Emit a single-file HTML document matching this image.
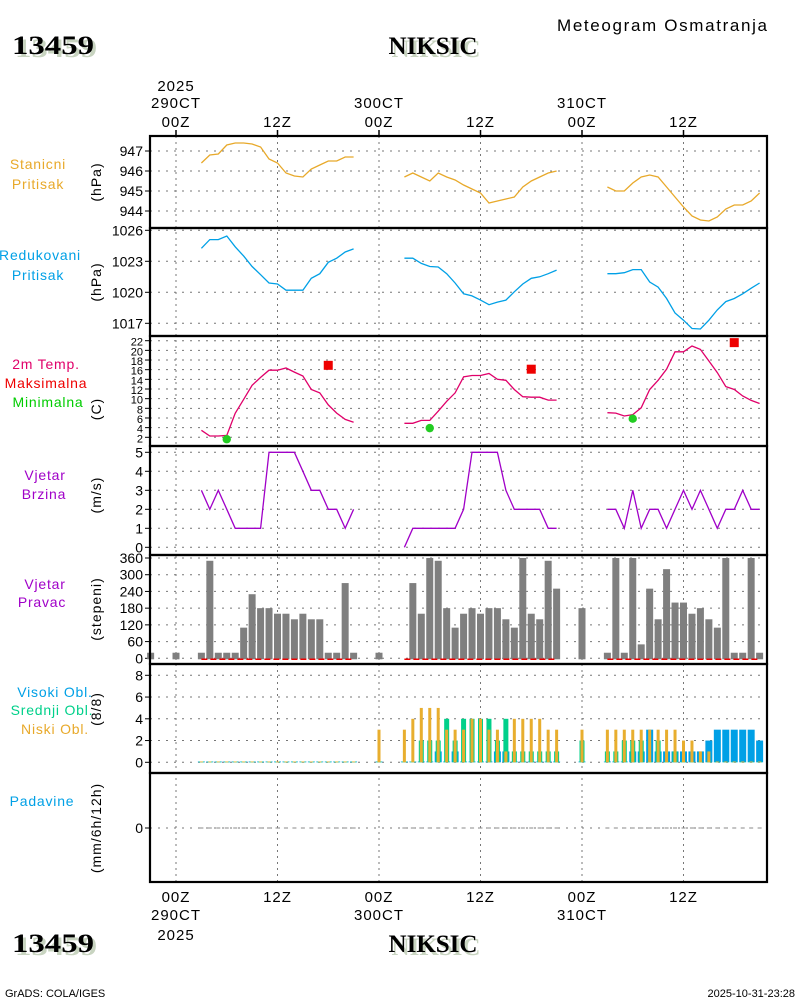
<!DOCTYPE html>
<html><head><meta charset="utf-8"><style>
body{margin:0;background:#fff;}
svg{display:block;font-family:"Liberation Sans",sans-serif;}
.t{font-family:"Liberation Serif",serif;font-weight:bold;}
</style></head><body>
<svg id="chart" width="800" height="1000" viewBox="0 0 800 1000">
<rect width="800" height="1000" fill="#fff"/>
<text x="557" y="31" font-size="17" textLength="210" lengthAdjust="spacing">Meteogram Osmatranja</text>
<g><text class="t" x="15" y="57" font-size="26" textLength="82" lengthAdjust="spacingAndGlyphs" fill="#c8d4c0">13459</text><text class="t" x="12" y="54" font-size="26" textLength="82" lengthAdjust="spacingAndGlyphs">13459</text></g>
<g><text class="t" x="436" y="57" font-size="25" fill="#c8d4c0" text-anchor="middle">NIKSIC</text><text class="t" x="433" y="54" font-size="25" text-anchor="middle">NIKSIC</text></g>
<g><text class="t" x="15" y="955" font-size="26" textLength="82" lengthAdjust="spacingAndGlyphs" fill="#c8d4c0">13459</text><text class="t" x="12" y="952" font-size="26" textLength="82" lengthAdjust="spacingAndGlyphs">13459</text></g>
<g><text class="t" x="436" y="955" font-size="25" fill="#c8d4c0" text-anchor="middle">NIKSIC</text><text class="t" x="433" y="952" font-size="25" text-anchor="middle">NIKSIC</text></g>
<text x="5" y="997" font-size="11">GrADS: COLA/IGES</text>
<text x="795" y="997" font-size="11" text-anchor="end">2025-10-31-23:28</text>
<g id="plot"></g>
</svg>
<script>
// ---- data (hours since 29OCT 00Z) ----
const hours1 = [3,4,5,6,7,8,9,10,11,12,13,14,15,16,17,18,19,20,21];
const hours2 = [27,28,29,30,31,32,33,34,35,36,37,38,39,40,41,42,43,44,45];
const hours3 = [51,52,53,54,55,56,57,58,59,60,61,62,63,64,65,66,67,68,69];
const stPres1 = [946.4,946.8,946.85,947.3,947.4,947.4,947.35,947.2,946.6,946.4,945.9,945.75,945.7,946.1,946.3,946.5,946.5,946.7,946.7];
const stPres2 = [945.7,945.9,945.7,945.5,945.9,945.7,945.55,945.3,945.1,944.9,944.4,944.5,944.6,944.7,945.2,945.5,945.7,945.9,946.0];
const stPres3 = [945.2,945.0,945.0,945.4,945.7,945.8,945.7,945.2,944.7,944.2,943.75,943.55,943.5,943.7,944.1,944.3,944.3,944.5,944.9];
const redPres1 = [1024.26,1025.1,1025.1,1025.45,1024.4,1023.5,1022.5,1021.7,1020.9,1020.8,1020.2,1020.2,1020.2,1021.35,1021.8,1022.9,1023.3,1023.9,1024.2];
const redPres2 = [1023.3,1023.3,1022.8,1022.5,1022.45,1021.8,1020.9,1019.85,1019.65,1019.25,1018.8,1019.05,1019.25,1020.05,1020.8,1021.35,1021.5,1021.8,1022.15];
const redPres3 = [1021.8,1021.8,1021.9,1022.2,1022.2,1021.0,1020.5,1019.4,1018.0,1017.3,1016.5,1016.45,1017.3,1018.3,1019.1,1019.4,1019.85,1020.4,1020.9];
const temp1 = [3.45,2.27,2.27,2.4,6.97,9.87,12.77,14.4,15.9,15.9,16.35,15.5,14.7,11.9,11.2,8.7,7.0,5.7,5.1];
const temp2 = [4.9,4.9,5.5,5.5,7.4,9.45,11.2,14.5,14.8,14.8,15.2,14.0,13.8,11.9,10.4,10.3,10.3,9.7,9.7];
const temp3 = [7.1,7.0,6.4,6.7,8.1,11.9,13.8,16.1,19.7,19.7,20.9,20.2,17.8,15.4,12.5,11.9,10.55,9.65,9.0];
const tmaxHours = [18,42,66];
const tmaxVals = [16.9,16.1,21.6];
const tminHours = [6,30,54];
const tminVals = [1.6,3.9,5.85];
const wind1 = [3,2,3,2,1,1,1,1,5,5,5,5,4,3,3,2,2,1,2];
const wind2 = [0,1,1,1,1,1,1,2,5,5,5,5,3,2,2,2,2,1,1];
const wind3 = [2,2,1,3,1,2,2,1,2,3,2,3,2,1,2,2,3,2,2];
const dirHours = [-3,0,3,4,5,6,7,8,9,10,11,12,13,14,15,16,17,18,19,20,21,24,28,29,30,31,32,33,34,35,36,37,38,39,40,41,42,43,44,45,48,51,52,53,54,55,56,57,58,59,60,61,62,63,64,65,66,67,68,69];
const dirVals = [20,20,20,350,20,20,20,110,230,180,180,160,160,140,160,140,140,20,20,270,20,20,270,160,360,350,180,110,160,180,160,180,180,140,110,360,160,140,350,250,180,20,360,20,360,50,250,140,320,200,200,160,180,140,110,360,20,20,360,20];
const cloudHours = [3,4,5,6,7,8,9,10,11,12,13,14,15,16,17,18,19,20,21,24,27,28,29,30,31,32,33,34,35,36,37,38,39,40,41,42,43,44,45,48,51,52,53,54,55,56,57,58,59,60,61,62,63,64,65,66,67,68,69];
const cloudHigh = [0,0,0,0,0,0,0,0,0,0,0,0,0,0,0,0,0,0,0,0,0,0,0,0,1,0,1,0,0,0,0,1,1,0,0,0,0,0,0,0,0,0,0,1,1,3,1,1,1,1,1,1,2,3,3,3,3,3,2];
const cloudMid = [0,0,0,0,0,0,0,0,0,0,0,0,0,0,0,0,0,0,0,0,0,0,2,2,2,4,2,4,4,4,4,2,4,1,1,1,1,1,1,2,1,1,2,2,2,0,2,0,1,0,0,0,0,0,0,0,0,0,0];
const cloudLow = [0,0,0,0,0,0,0,0,0,0,0,0,0,0,0,0,0,0,0,3,3,4,5,5,5,3,3,3,4,4,3,3,1,4,4,4,4,3,3,3,3,3,3,3,3,3,3,3,3,2,2,1,1,0,0,0,0,0,0];
const precipHours = [3,4,5,6,7,8,9,10,11,12,13,14,15,16,17,18,19,20,21,27,28,29,30,31,32,33,34,35,36,37,38,39,40,41,42,43,44,45,51,52,53,54,55,56,57,58,59,60,61,62,63,64,65,66,67,68,69];
const precipVals = [0,0,0,0,0,0,0,0,0,0,0,0,0,0,0,0,0,0,0,0,0,0,0,0,0,0,0,0,0,0,0,0,0,0,0,0,0,0,0,0,0,0,0,0,0,0,0,0,0,0,0,0,0,0,0,0,0];
const stPresTicks = [944,945,946,947];
const redPresTicks = [1017,1020,1023,1026];
const tempTicks = [2,4,6,8,10,12,14,16,18,20,22];
const windTicks = [0,1,2,3,4,5];
const dirTicks = [0,60,120,180,240,300,360];
const cloudTicks = [0,2,4,6,8];
const timeTickHours = [0,12,24,36,48,60];
const timeTickLabels = ['00Z','12Z','00Z','12Z','00Z','12Z'];

// ---- geometry ----
const L=150,R=767;
const X = h => 176 + h*101.5/12;
const lin=(v0,y0,v1,y1)=>v=>y0+(v-v0)*(y1-y0)/(v1-v0);
const yStP = lin(947,151,944,211);
const yRed = lin(1023,261.3,1020,292.3);
const yT = lin(2,437.3,22,340.7);
const yW = lin(0,547.3,5,452.3);
const yD = lin(0,658.3,360,558);
const yC = lin(0,762.3,8,675.3);
const yP = v=>828-v*20;
const NS='http://www.w3.org/2000/svg';
const plot=document.getElementById('plot');
function mk(tag,a,parent){const e=document.createElementNS(NS,tag);for(const k in a)e.setAttribute(k,a[k]);(parent||plot).appendChild(e);return e;}
function txt(x,y,s,a,parent){const e=mk('text',Object.assign({x:x,y:y,'font-size':13},a||{}),parent);e.textContent=s;return e;}

const panels=[[136,228],[228,336],[336,446],[446,555],[555,664],[664,773],[773,882]];
timeTickHours.forEach((h,i)=>{
  const g=mk('line',{x1:X(h),x2:X(h),y1:136,y2:882,stroke:'#777','stroke-dasharray':'2,4'});
  
  
  const tk=mk('line',{x1:X(h),x2:X(h),y1:130,y2:136,stroke:'#000','stroke-width':1.5});
  
  
  const lt=txt(X(h),127,timeTickLabels[i],{'text-anchor':'middle','font-size':15,'letter-spacing':1});
  
  
  const lb=txt(X(h),902,timeTickLabels[i],{'text-anchor':'middle','font-size':15,'letter-spacing':1});
  
  
});
[[0,'290CT'],[24,'300CT'],[48,'310CT']].forEach(([h,s])=>{
  const a=txt(X(h),108,s,{'text-anchor':'middle','font-size':15,'letter-spacing':1});
  
  
  const b=txt(X(h),920,s,{'text-anchor':'middle','font-size':15,'letter-spacing':1});
  
  
});
const y1=txt(X(0),91,'2025',{'text-anchor':'middle','font-size':15,'letter-spacing':1});


const y2=txt(X(0),940,'2025',{'text-anchor':'middle','font-size':15,'letter-spacing':1});



function yaxis(ticks,fy,fs,name){
  ticks.forEach(v=>{
    const g=mk('line',{x1:L,x2:R,y1:fy(v),y2:fy(v),stroke:'#777','stroke-dasharray':'2,6'});
    
    
    const tk=mk('line',{x1:L-5,x2:L,y1:fy(v),y2:fy(v),stroke:'#000'});
    
    
    const t=txt(L-7,fy(v)+5,String(v),{'text-anchor':'end','font-size':fs});
    
    
  });
}
yaxis(stPresTicks,yStP,14,'station-pressure');
yaxis(redPresTicks,yRed,14,'reduced-pressure');
yaxis(tempTicks,yT,11,'temperature');
yaxis(windTicks,yW,14,'wind-speed');
yaxis(dirTicks,yD,14,'wind-direction');
yaxis(cloudTicks,yC,14,'cloud-cover');
yaxis([0],yP,14,'precipitation');

function units(s,cy,name){const t=txt(0,0,s,{'text-anchor':'middle','font-size':14,'letter-spacing':1,transform:`translate(101,${cy}) rotate(-90)`});
  
  }
units('(hPa)',182,'station-pressure-unit');
units('(hPa)',282,'reduced-pressure-unit');
units('(C)',409,'temperature-unit');
units('(m/s)',495,'wind-speed-unit');
units('(stepeni)',609,'wind-direction-unit');
units('(8/8)',709,'cloud-cover-unit');
units('(mm/6h/12h)',828,'precipitation-unit');

function lbl(x,y,s,c,name){const t=txt(x,y,s,{fill:c,'font-size':14,'text-anchor':'middle','letter-spacing':0.8});
  
  }
lbl(38,169,'Stanicni','#e8a92a','station-pressure-label');
lbl(38,189,'Pritisak','#e8a92a','station-pressure-label-2');
lbl(40,260,'Redukovani','#00a0e6','reduced-pressure-label');
lbl(38,280,'Pritisak','#00a0e6','reduced-pressure-label-2');
lbl(46,369,'2m Temp.','#e0006a','temperature-label');
lbl(46,388,'Maksimalna','#ee0000','tmax-label');
lbl(48,407,'Minimalna','#00cc00','tmin-label');
lbl(45,480,'Vjetar','#a000c8','wind-speed-label');
lbl(44,499,'Brzina','#a000c8','wind-speed-label-2');
lbl(45,589,'Vjetar','#a000c8','wind-direction-label');
lbl(42,607,'Pravac','#a000c8','wind-direction-label-2');
lbl(55,697,'Visoki Obl.','#00a0e6','high-cloud-label');
lbl(52,715,'Srednji Obl.','#00d08a','mid-cloud-label');
lbl(55,734,'Niski Obl.','#e8a92a','low-cloud-label');
lbl(42,806,'Padavine','#00a0e6','precipitation-label');

function line(hs,vs,fy,col,name,w){
  const d=hs.map((h,i)=>(i?'L':'M')+X(h).toFixed(1)+','+fy(vs[i]).toFixed(1)).join('');
  const p=mk('path',{d:d,fill:'none',stroke:col,'stroke-width':w||1.3});
  
  
}
[[hours1,stPres1],[hours2,stPres2],[hours3,stPres3]].forEach(([h,v],i)=>line(h,v,yStP,'#e8a92a','station-pressure-line-day'+(i+1)));
[[hours1,redPres1],[hours2,redPres2],[hours3,redPres3]].forEach(([h,v],i)=>line(h,v,yRed,'#00a0e6','reduced-pressure-line-day'+(i+1)));
[[hours1,temp1],[hours2,temp2],[hours3,temp3]].forEach(([h,v],i)=>line(h,v,yT,'#e0006a','temperature-line-day'+(i+1)));
[[hours1,wind1],[hours2,wind2],[hours3,wind3]].forEach(([h,v],i)=>line(h,v,yW,'#a000c8','wind-speed-line-day'+(i+1)));
tmaxHours.forEach((h,i)=>{const r=mk('rect',{x:X(h)-4.5,y:yT(tmaxVals[i])-4.5,width:9,height:9,fill:'#ee0000'});
  
  });
tminHours.forEach((h,i)=>{const c=mk('circle',{cx:X(h),cy:yT(tminVals[i]),r:4.2,fill:'#22cc22'});
  
  });
dirHours.forEach((h,i)=>{const v=dirVals[i];const r=mk('rect',{x:X(h)-3.5,y:yD(v),width:7,height:yD(0)-yD(v)+1,fill:'#7f7f7f'});
  
  });
[[3,21],[27,45],[51,69]].forEach(([a,b])=>{const l=mk('line',{x1:X(a),x2:X(b),y1:yD(0)+1,y2:yD(0)+1,stroke:'#ee0000','stroke-width':1.5,'stroke-dasharray':'6,3'});
  
  });
function cbars(vs,w,col,name){cloudHours.forEach((h,i)=>{const v=vs[i];const hh=v>0?yC(0)-yC(v):0.8;
  const r=mk('rect',{x:X(h)-w/2,y:yC(0)-hh,width:w,height:hh,fill:col});
  
  });}
cbars(cloudHigh,7,'#00a0e6','high-cloud-bar');
cbars(cloudMid,5,'#00d08a','mid-cloud-bar');
cbars(cloudLow,3,'#e8ae2e','low-cloud-bar');
precipHours.forEach((h,i)=>{const r=mk('rect',{x:X(h)-2,y:yP(precipVals[i])-0.5,width:4,height:1,fill:'#888'});
  
  });
panels.forEach(([a,b],i)=>{const r=mk('rect',{x:L,y:a,width:R-L,height:b-a,fill:'none',stroke:'#000','stroke-width':2.2});
  
  });
</script>
</body></html>
